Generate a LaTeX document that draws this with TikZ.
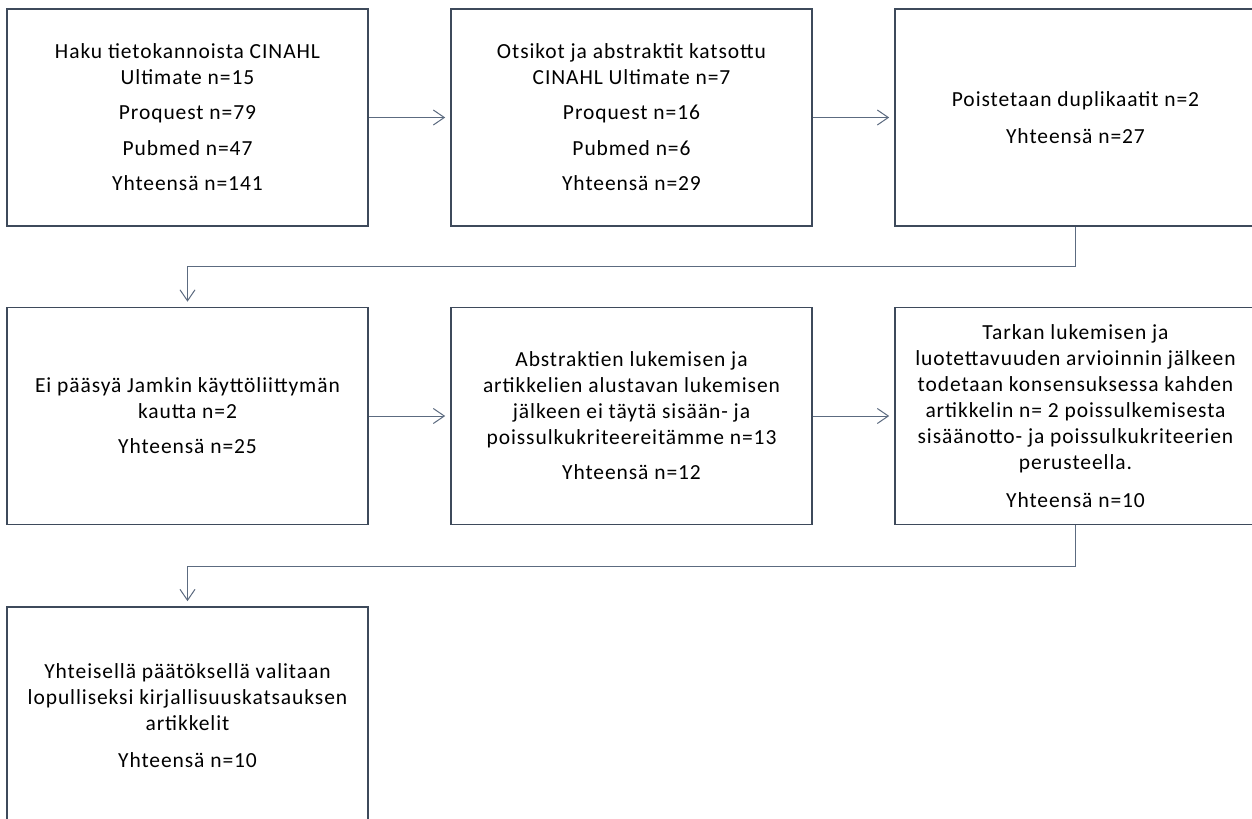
\documentclass[tikz,border=0pt]{standalone}
\usepackage{fontspec}
\setmainfont{Carlito}[LetterSpace=4.3]
\usetikzlibrary{arrows.meta}
\definecolor{boxline}{HTML}{3E4A5B}
\definecolor{conline}{HTML}{5C6B80}
\begin{document}
\begin{tikzpicture}[x=1bp,y=-1bp,
  flowbox/.style={draw=boxline, line width=1.6bp, rectangle, minimum width=361bp,
    minimum height=217bp, inner sep=0pt, align=center, text=black,
    font=\fontsize{21.5bp}{26bp}\selectfont},
  conn/.style={draw=conline, line width=1bp,
    -{Straight Barb[length=11bp,width=15bp,line width=1bp]}, shorten >=5bp}]
\path[use as bounding box, clip] (0,0) rectangle (1252,819);
\fill[white] (0,0) rectangle (1252,819);
\node[flowbox] (b1) at (187.5,117.5) {Haku tietokannoista CINAHL\\Ultimate n=15\\[9bp]Proquest n=79\\[10bp]Pubmed n=47\\[9bp]Yhteensä n=141};
\node[flowbox] (b2) at (631.5,117.5) {Otsikot ja abstraktit katsottu\\CINAHL Ultimate n=7\\[9bp]Proquest n=16\\[10bp]Pubmed n=6\\[9bp]Yhteensä n=29};
\node[flowbox] (b3) at (1075.5,117.5) {Poistetaan duplikaatit n=2\\[11bp]Yhteensä n=27};
\node[flowbox] (b4) at (187.5,416) {Ei pääsyä Jamkin käyttöliittymän\\kautta n=2\\[9bp]Yhteensä n=25};
\node[flowbox] (b5) at (631.5,416) {Abstraktien lukemisen ja\\artikkelien alustavan lukemisen\\jälkeen ei täytä sisään- ja\\poissulkukriteereitämme n=13\\[9bp]Yhteensä n=12};
\node[flowbox] (b6) at (1075.5,416) {Tarkan lukemisen ja\\luotettavuuden arvioinnin jälkeen\\todetaan konsensuksessa kahden\\artikkelin n= 2 poissulkemisesta\\sisäänotto- ja poissulkukriteerien\\perusteella.\\[12bp]Yhteensä n=10};
\node[flowbox] (b7) at (187.5,715.5) {Yhteisellä päätöksellä valitaan\\lopulliseksi kirjallisuuskatsauksen\\artikkelit\\[11bp]Yhteensä n=10};
\draw[conn] (b1.east) -- (b2.west);
\draw[conn] (b2.east) -- (b3.west);
\draw[conn] (b4.east) -- (b5.west);
\draw[conn] (b5.east) -- (b6.west);
\draw[conn] (b3.south) -- ++(0,40) -| (b4.north);
\draw[conn] (b6.south) -- ++(0,41.5) -| (b7.north);
\end{tikzpicture}
\end{document}
